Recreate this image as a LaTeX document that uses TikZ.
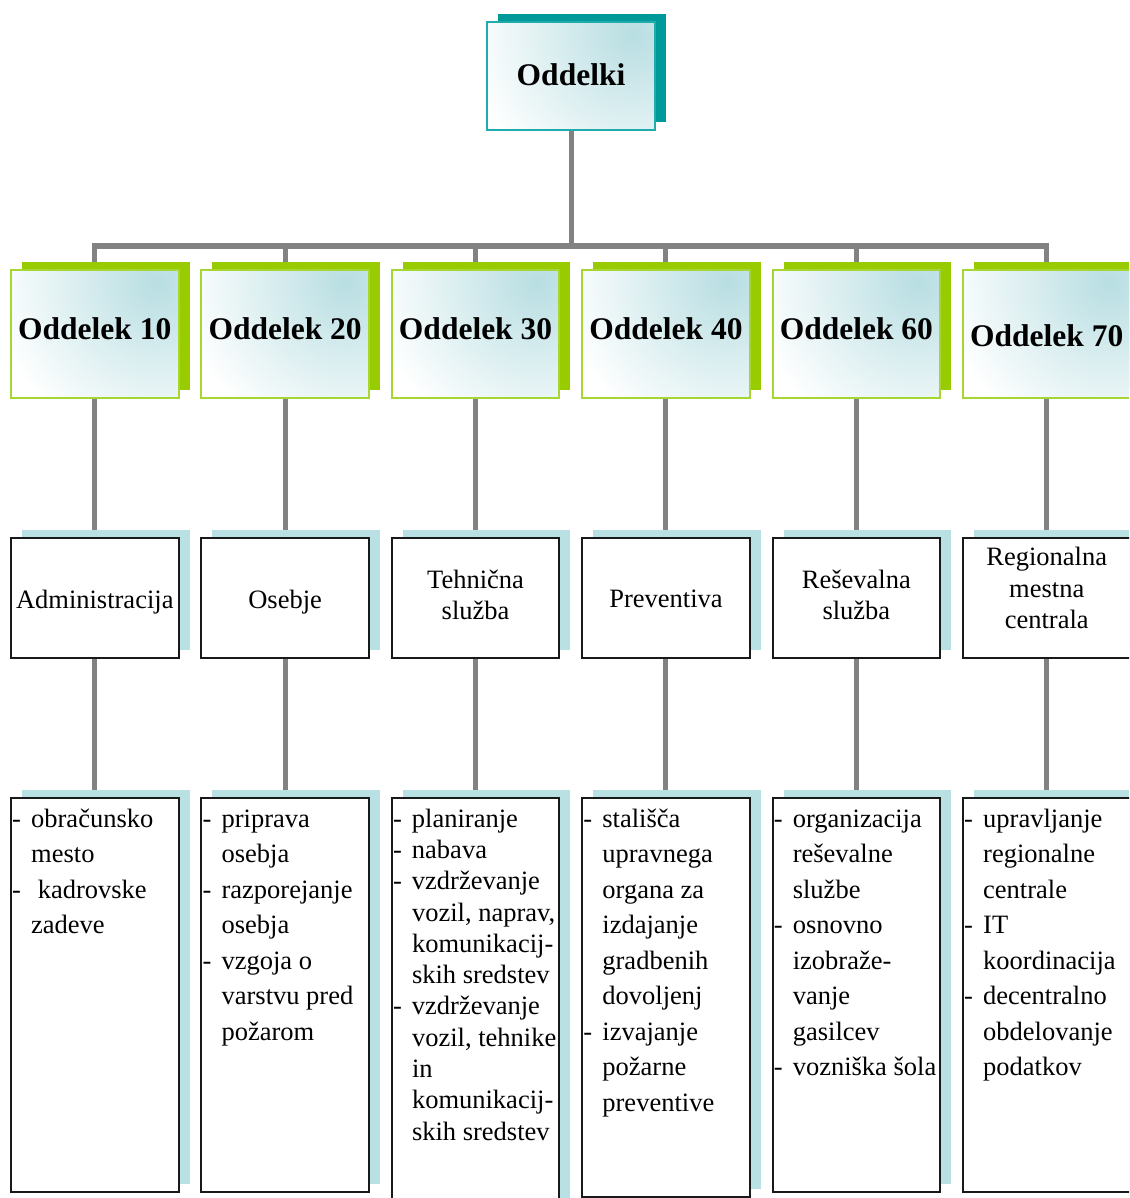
\documentclass[tikz,border=0pt]{standalone}
\usepackage{fontspec}
\setmainfont{Liberation Serif}
\usetikzlibrary{shadows}
\pgfdeclarelayer{conn}
\pgfsetlayers{conn,main}
\definecolor{tealS}{RGB}{0,153,153}
\definecolor{tealB}{RGB}{32,172,172}
\definecolor{greenS}{RGB}{153,204,0}
\definecolor{greenB}{RGB}{166,214,50}
\definecolor{lblueS}{RGB}{185,224,227}
\definecolor{lineG}{RGB}{130,130,130}
\definecolor{hotC}{RGB}{184,222,226}
\newcommand\lidash{\makebox[19pt][l]{-}}
\newcommand\liind{\hspace*{19pt}}
\begin{document}
\begin{tikzpicture}[x=1pt,y=-1pt,
  gradbox/.style={rectangle, inner sep=0pt, fill=white, line width=2pt,
    path picture={\shade[inner color=hotC, outer color=white]
      ([shift={(-22,12)}]path picture bounding box.north east) circle (165);}},
  topbox/.style={gradbox, draw=tealB, minimum width=168pt, minimum height=108pt,
    general shadow={shadow xshift=11pt, shadow yshift=8pt, fill=tealS}},
  lonebox/.style={gradbox, draw=greenB, minimum width=167.5pt, minimum height=128pt,
    general shadow={shadow xshift=11pt, shadow yshift=8pt, fill=greenS}},
  plainbox/.style={rectangle, inner sep=0pt, fill=white, draw=black!90, line width=2pt,
    minimum width=167.5pt,
    general shadow={shadow xshift=11pt, shadow yshift=8pt, fill=lblueS}},
  ltwobox/.style={plainbox, minimum height=120pt},
  hd/.style={font=\bfseries\fontsize{31.5}{36}\selectfont, inner sep=0pt},
  mid/.style={font=\fontsize{26.5}{31.3}\selectfont, inner sep=0pt, align=center},
  lst/.style={font=\fontsize{26.5}{35.5}\selectfont, inner sep=0pt, align=left, anchor=north west},
  lsttight/.style={font=\fontsize{26.5}{31.3}\selectfont, inner sep=0pt, align=left, anchor=north west},
  conn/.style={draw=lineG, line width=5pt, line cap=rect}
]
\useasboundingbox (0,0) rectangle (1129,1198);
\clip (0,0) rectangle (1129,1198);

% top
\node[topbox] (top) at (571,76) {};
\node[hd] (tt) at (571,75) {Oddelki};

% level 1
\node[lonebox] (h1) at (94.75,334) {};
\node[lonebox] (h2) at (285.15,334) {};
\node[lonebox] (h3) at (475.55,334) {};
\node[lonebox] (h4) at (665.95,334) {};
\node[lonebox] (h5) at (856.35,334) {};
\node[lonebox] (h6) at (1046.75,334) {};
\node[hd] (ht1) at (94.75,329) {Oddelek 10};
\node[hd] (ht2) at (285.15,329) {Oddelek 20};
\node[hd] (ht3) at (475.55,329) {Oddelek 30};
\node[hd] (ht4) at (665.95,329) {Oddelek 40};
\node[hd] (ht5) at (856.35,329) {Oddelek 60};
\node[hd] (ht6) at (1046.75,336) {Oddelek 70};

% level 2
\node[ltwobox] (s1) at (94.75,598) {};
\node[ltwobox] (s2) at (285.15,598) {};
\node[ltwobox] (s3) at (475.55,598) {};
\node[ltwobox] (s4) at (665.95,598) {};
\node[ltwobox] (s5) at (856.35,598) {};
\node[ltwobox] (s6) at (1046.75,598) {};
\node[mid] (st1) at (94.75,602) {Administracija};
\node[mid] (st2) at (285.15,602) {Osebje};
\node[mid] (st3) at (475.55,595) {Tehnična\\služba};
\node[mid] (st4) at (665.95,599) {Preventiva};
\node[mid] (st5) at (856.35,595) {Reševalna\\služba};
\node[mid] (st6) at (1046.75,588) {Regionalna\\mestna\\centrala};

% level 3
\node[plainbox, minimum height=394pt] (d1) at (94.75,995) {};
\node[plainbox, minimum height=394pt] (d2) at (285.15,995) {};
\node[plainbox, minimum height=408pt] (d3) at (475.55,1002) {};
\node[plainbox, minimum height=399pt] (d4) at (665.95,997.5) {};
\node[plainbox, minimum height=394pt] (d5) at (856.35,995) {};
\node[plainbox, minimum height=394pt] (d6) at (1046.75,995) {};

\node[lst] (dt1) at (12,802) {\strut\lidash obračunsko\\\liind mesto\\\lidash\hspace{6.6pt}kadrovske\\\liind zadeve};
\node[lst] (dt2) at (202.4,802) {\strut\lidash priprava\\\liind osebja\\\lidash razporejanje\\\liind osebja\\\lidash vzgoja o\\\liind varstvu pred\\\liind požarom};
\node[lsttight] (dt3) at (392.8,805) {\strut\lidash planiranje\\\lidash nabava\\\lidash vzdrževanje\\\liind vozil, naprav,\\\liind komunikacij-\\\liind skih sredstev\\\lidash vzdrževanje\\\liind vozil, tehnike\\\liind in\\\liind komunikacij-\\\liind skih sredstev};
\node[lst] (dt4) at (583.2,802) {\strut\lidash stališča\\\liind upravnega\\\liind organa za\\\liind izdajanje\\\liind gradbenih\\\liind dovoljenj\\\lidash izvajanje\\\liind požarne\\\liind preventive};
\node[lst] (dt5) at (773.6,802) {\strut\lidash organizacija\\\liind reševalne\\\liind službe\\\lidash osnovno\\\liind izobraže-\\\liind vanje\\\liind gasilcev\\\lidash vozniška šola};
\node[lst] (dt6) at (964,802) {\strut\lidash upravljanje\\\liind regionalne\\\liind centrale\\\lidash IT\\\liind koordinacija\\\lidash decentralno\\\liind obdelovanje\\\liind podatkov};

% connectors (behind)
\begin{pgfonlayer}{conn}
\coordinate (bus) at (571,246);
\draw[conn] (top.south) -- (bus);
\foreach \i in {1,...,6} {
  \draw[conn] (bus) -| (h\i.north);
  \draw[conn] (h\i.south) -- (s\i.north);
  \draw[conn] (s\i.south) -- (d\i.north);
}
\end{pgfonlayer}
\end{tikzpicture}
\end{document}
